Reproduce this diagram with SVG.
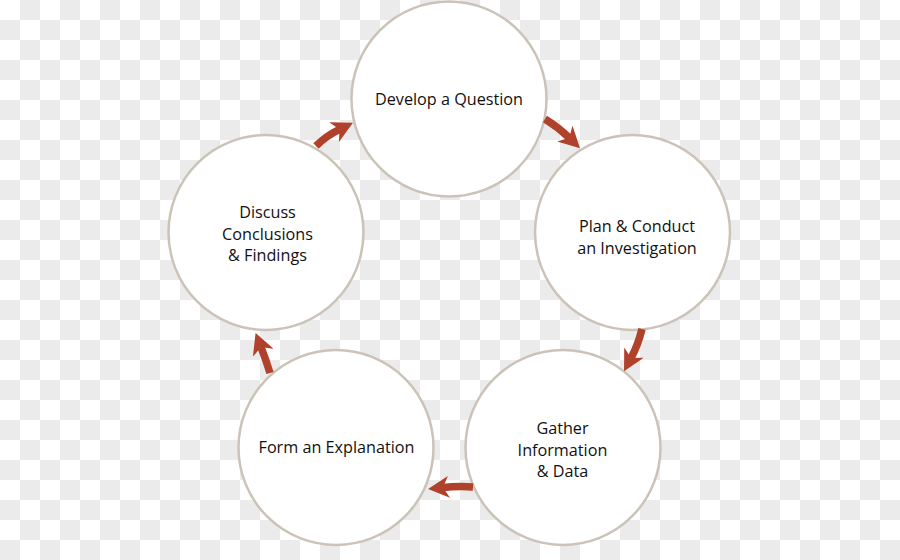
<svg xmlns="http://www.w3.org/2000/svg" width="900" height="560" viewBox="0 0 900 560">
<defs>
<pattern id="checker" x="0" y="0" width="40" height="40" patternUnits="userSpaceOnUse">
<rect width="40" height="40" fill="#ffffff"/>
<rect x="20" y="0" width="20" height="20" fill="#ebebeb"/>
<rect x="0" y="20" width="20" height="20" fill="#ebebeb"/>
</pattern>
<marker id="head" viewBox="0 0 22 22" markerWidth="22" markerHeight="22" refX="6" refY="11" orient="auto" markerUnits="userSpaceOnUse">
<path d="M0,0 L21,11 L0,22 L6,11 z" fill="#b0412a"/>
</marker>
<style>
.node circle{fill:#ffffff;stroke:#cbc3b8;stroke-width:2.5}
.node text{font-family:"Open Sans","Noto Sans",sans-serif;font-size:16.2px;fill:#111111;text-anchor:middle}
.conn path{fill:none;stroke:#b0412a;stroke-width:7.5;marker-end:url(#head)}
</style>
</defs>
<rect width="900" height="560" fill="url(#checker)"/>
<g id="n1" class="node">
<circle cx="449" cy="99" r="97.5"/>
<text x="449" y="105">Develop a Question</text>
</g>
<g id="n2" class="node">
<circle cx="632.5" cy="232.5" r="97.5"/>
<text x="637" y="232">Plan &amp; Conduct</text>
<text x="637" y="254">an Investigation</text>
</g>
<g id="n3" class="node">
<circle cx="563" cy="447.5" r="97.5"/>
<text x="562.5" y="434">Gather</text>
<text x="562.5" y="456">Information</text>
<text x="562.5" y="477">&amp; Data</text>
</g>
<g id="n4" class="node">
<circle cx="336" cy="447.5" r="97.5"/>
<text x="336.5" y="453">Form an Explanation</text>
</g>
<g id="n5" class="node">
<circle cx="266" cy="232.5" r="97.5"/>
<text x="267.5" y="218">Discuss</text>
<text x="267.5" y="240">Conclusions</text>
<text x="267.5" y="261">&amp; Findings</text>
</g>
<g id="connectors" class="conn">
<path d="M316,146 Q326,136 339.5,129.4"/>
<path d="M545,119 Q558,127 569.2,137.8"/>
<path d="M642,329 Q638,345 631.1,357.9"/>
<path d="M473,487 Q458,486 443,487.5"/>
<path d="M270,373 Q266,360 261,347.1"/>
</g>
</svg>
